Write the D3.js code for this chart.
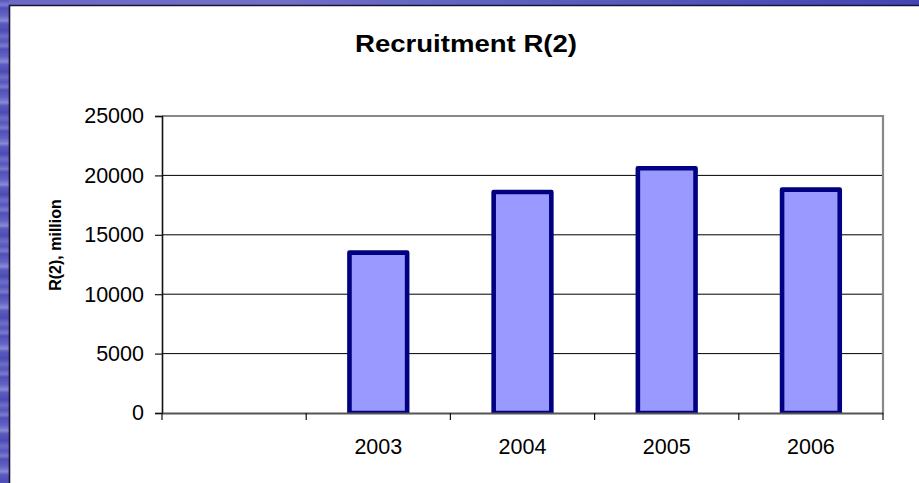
<!DOCTYPE html>
<html>
<head>
<meta charset="utf-8">
<script src="https://cdn.jsdelivr.net/npm/d3@7"></script>
<style>
  html, body { margin: 0; padding: 0; background: #ffffff; }
  svg { display: block; font-family: "Liberation Sans", Arial, sans-serif; }
</style>
</head>
<body>
<svg id="chart" width="919" height="483"></svg>
<script>
// Recruitment estimates, million individuals
const categories = ["", "2003", "2004", "2005", "2006"];
const values = [null, 13500, 18600, 20600, 18800];
const yTicks = [0, 5000, 10000, 15000, 20000, 25000];
const titleText = "Recruitment R(2)";
const yLabelText = "R(2), million";

const W = 919, H = 483;
const plot = { left: 162, right: 883, top: 116, bottom: 413 };

const svg = d3.select("#chart");
const defs = svg.append("defs");

// Slide frame: textured blue strips on the left and top edges
const vGrad = defs.append("linearGradient")
  .attr("id", "frameV").attr("gradientUnits", "userSpaceOnUse")
  .attr("x1", 0).attr("y1", 0).attr("x2", 0).attr("y2", 41)
  .attr("spreadMethod", "repeat");
[[0, "#5656bd"], [0.12, "#7a7acd"], [0.2, "#5050b8"], [0.38, "#6464c4"],
 [0.5, "#8888d4"], [0.58, "#5a5abe"], [0.75, "#4c4cb4"], [0.88, "#6e6ec8"], [1, "#5656bd"]]
  .forEach(([o, c]) => vGrad.append("stop").attr("offset", o).attr("stop-color", c));

const hGrad = defs.append("linearGradient")
  .attr("id", "frameH").attr("gradientUnits", "userSpaceOnUse")
  .attr("x1", 0).attr("y1", 0).attr("x2", 919).attr("y2", 0);
[[0, "#6a6ac6"], [0.3, "#7070c8"], [0.6, "#5c5cbf"], [1, "#4444b4"]]
  .forEach(([o, c]) => hGrad.append("stop").attr("offset", o).attr("stop-color", c));

svg.append("rect").attr("x", 0).attr("y", 0).attr("width", W).attr("height", 6)
  .attr("fill", "url(#frameH)");
svg.append("rect").attr("x", 0).attr("y", 0).attr("width", 9).attr("height", H)
  .attr("fill", "url(#frameV)");
svg.append("path")
  .attr("d", `M9.5,${H} V5.5 H${W}`)
  .attr("fill", "none").attr("stroke", "#161633").attr("stroke-width", 1.6);

// Scales
const x = d3.scaleBand().domain(categories).range([plot.left, plot.right]).paddingInner(0).paddingOuter(0);
const y = d3.scaleLinear().domain([0, 25000]).range([plot.bottom, plot.top]);

// Horizontal gridlines
svg.append("g")
  .selectAll("line")
  .data(yTicks.filter(t => t > 0 && t < 25000))
  .join("line")
  .attr("x1", plot.left).attr("x2", plot.right)
  .attr("y1", d => y(d)).attr("y2", d => y(d))
  .attr("stroke", "#000").attr("stroke-width", 1);

// Plot area border (top and right)
svg.append("path")
  .attr("d", `M${plot.left},${y(25000)} H${plot.right} V${plot.bottom}`)
  .attr("fill", "none").attr("stroke", "#888").attr("stroke-width", 2.2);

// Bars
defs.append("clipPath").attr("id", "plotClip")
  .append("rect")
  .attr("x", plot.left).attr("y", plot.top - 10)
  .attr("width", plot.right - plot.left).attr("height", plot.bottom - plot.top + 10);

const barW = x.bandwidth() * 0.4;
svg.append("g").attr("clip-path", "url(#plotClip)")
  .selectAll("rect")
  .data(categories.map((c, i) => ({ c, v: values[i] })).filter(d => d.v != null))
  .join("rect")
  .attr("x", d => x(d.c) + (x.bandwidth() - barW) / 2)
  .attr("width", barW)
  .attr("y", d => y(d.v))
  .attr("height", d => y(0) - y(d.v))
  .attr("fill", "#9999ff")
  .attr("stroke", "#000080")
  .attr("stroke-width", 4.6)
  .attr("stroke-linejoin", "round");

// Y axis
const yAxis = svg.append("g")
  .attr("transform", `translate(${plot.left},0)`)
  .call(d3.axisLeft(y).tickValues(yTicks).tickSize(7).tickPadding(11).tickFormat(d3.format("d")));
yAxis.select(".domain").attr("stroke", "#111").attr("stroke-width", 1.6);
yAxis.selectAll(".tick line").attr("stroke", "#111").attr("stroke-width", 1.2);
yAxis.selectAll(".tick text")
  .attr("font-size", 21.5).attr("fill", "#000")
  .attr("font-family", "Liberation Sans, Arial, sans-serif");

// X axis: labels centred in bands, tick marks on band boundaries
const xAxis = svg.append("g")
  .attr("transform", `translate(0,${plot.bottom})`)
  .call(d3.axisBottom(x).tickSize(0).tickPadding(26));
xAxis.select(".domain").attr("stroke", "#555").attr("stroke-width", 2);
xAxis.selectAll(".tick text")
  .attr("font-size", 21.5).attr("fill", "#000")
  .attr("font-family", "Liberation Sans, Arial, sans-serif");

const boundaries = categories.map(c => x(c)).concat([x.range()[1]]);
xAxis.selectAll("line.bound")
  .data(boundaries)
  .join("line").attr("class", "bound")
  .attr("x1", d => d).attr("x2", d => d)
  .attr("y1", 0).attr("y2", 7)
  .attr("stroke", "#111").attr("stroke-width", 1.2);

// Title
svg.append("text")
  .attr("x", 466).attr("y", 52)
  .attr("text-anchor", "middle")
  .attr("font-size", 23).attr("font-weight", "bold")
  .attr("textLength", 222).attr("lengthAdjust", "spacingAndGlyphs")
  .text(titleText);

// Y axis title
svg.append("text")
  .attr("transform", "translate(61,245) rotate(-90)")
  .attr("text-anchor", "middle")
  .attr("font-size", 16).attr("font-weight", "bold")
  .text(yLabelText);
</script>
</body>
</html>
